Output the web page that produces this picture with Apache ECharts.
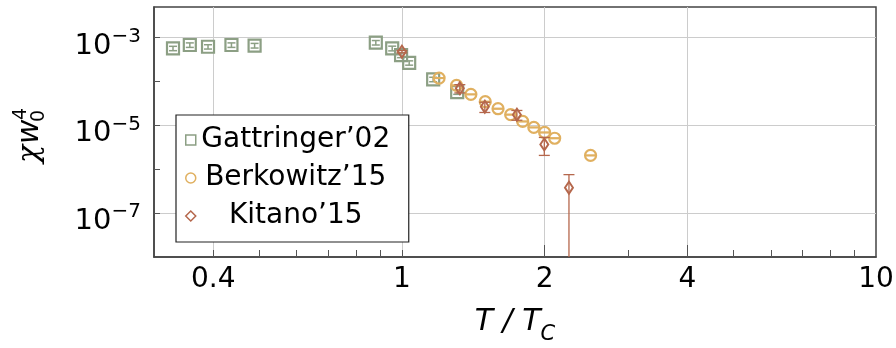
<!DOCTYPE html>
<html>
<head>
<meta charset="utf-8">
<script src="https://cdn.jsdelivr.net/npm/echarts@6/dist/echarts.min.js"></script>
<style>
  html, body { margin: 0; padding: 0; background: #fff; }
  #chart { width: 896px; height: 348px; }
</style>
</head>
<body>
<div id="chart"></div>
<script>
// series names
const names = ["Gattringer’02", "Berkowitz’15", "Kitano’15"];

// Gattringer'02 : T/Tc, chi*w0^4, error
const gattT = [0.329, 0.357, 0.390, 0.437, 0.489, 0.881, 0.954, 0.996, 1.036, 1.164, 1.308];
const gattChi = [5.7e-4, 6.8e-4, 6.2e-4, 6.8e-4, 6.6e-4, 7.7e-4, 5.7e-4, 4.0e-4, 2.66e-4, 1.12e-4, 5.75e-5];
const gattErr = [6.5e-5, 8e-5, 7e-5, 8e-5, 8e-5, 9e-5, 7e-5, 5e-5, 3e-5, 1.3e-5, 6.5e-6];

// Berkowitz'15
const berkT = [1.198, 1.304, 1.398, 1.499, 1.595, 1.696, 1.798, 1.898, 2.0, 2.10, 2.50];
const berkChi = [1.2e-4, 8.2e-5, 5.1e-5, 3.47e-5, 2.4e-5, 1.76e-5, 1.23e-5, 9.0e-6, 6.9e-6, 5.1e-6, 2.07e-6];
const berkErr = [2e-6, 1.5e-6, 1e-6, 7e-7, 5e-7, 3.5e-7, 2.5e-7, 1.8e-7, 1.4e-7, 1e-7, 4e-8];

// Kitano'15
const kitT = [1.0, 1.325, 1.496, 1.748, 1.997, 2.251];
const kitChi = [4.8e-4, 7.0e-5, 2.67e-5, 1.75e-5, 3.69e-6, 3.8e-7];
const kitErr = [3e-5, 1.5e-5, 7e-6, 4.4e-6, 1.62e-6, 3.75e-7];

// axis ticks
const xLabelVals = [0.4, 1, 2, 4, 10];
const xGridVals = [0.4, 1, 2, 4];
const xMajorTicks = [2, 4];
const xMinorTicks = [0.4, 0.5, 0.6, 0.7, 0.8, 0.9, 1, 3, 5, 6, 7, 8, 9];
const yLabelVals = [1e-7, 1e-5, 1e-3];
const yTickVals = [1e-7, 1e-6, 1e-5, 1e-4, 1e-3];

const F = "DejaVu Sans";
const green = "#8c9f84";
const orange = "#e0b060";
const brown = "#b5674c";
const frame = "#444";

const chart = echarts.init(document.getElementById("chart"));

function pts(xs, ys) {
  return xs.map((x, i) => [x, ys[i]]);
}
function bars(xs, ys, es) {
  return xs.map((x, i) => [x, ys[i] - es[i], ys[i] + es[i]]);
}
function errRender(capW, color, lw) {
  return function (params, api) {
    const x = api.value(0);
    const p0 = api.coord([x, api.value(1)]);
    const p1 = api.coord([x, api.value(2)]);
    const h = capW / 2;
    const st = { stroke: color, lineWidth: lw };
    return {
      type: "group",
      children: [
        { type: "line", shape: { x1: p0[0], y1: p0[1], x2: p1[0], y2: p1[1] }, style: st },
        { type: "line", shape: { x1: p0[0] - h, y1: p0[1], x2: p0[0] + h, y2: p0[1] }, style: st },
        { type: "line", shape: { x1: p1[0] - h, y1: p1[1], x2: p1[0] + h, y2: p1[1] }, style: st }
      ]
    };
  };
}

const logX = { type: "log", logBase: 10, min: 0.3, max: 10, position: "bottom" };
const logY = { type: "log", logBase: 10, min: 1e-8, max: 5e-3, position: "left" };

const option = {
  animation: false,
  backgroundColor: "#fff",
  grid: {
    left: 154, top: 7, right: 20, bottom: 91,
    containLabel: false, outerBoundsMode: "none",
    show: true, borderColor: frame, borderWidth: 1.5, backgroundColor: "transparent"
  },
  xAxis: [
    Object.assign({}, logX, {
      name: "{i|T / T}{sub|C}",
      nameLocation: "middle",
      nameGap: 50,
      nameTextStyle: {
        rich: {
          i: { fontSize: 30, fontFamily: F, fontStyle: "italic", color: "#000", lineHeight: 34, verticalAlign: "top" },
          sub: { fontSize: 21, fontFamily: F, fontStyle: "italic", color: "#000", lineHeight: 21, padding: [17, 0, 0, 0], verticalAlign: "top" }
        }
      },
      axisLine: { show: true, onZero: false, lineStyle: { color: frame, width: 1.5 } },
      axisTick: { show: true, inside: true, length: 7, customValues: xMinorTicks, lineStyle: { color: "#555", width: 1 } },
      axisLabel: {
        customValues: xLabelVals,
        formatter: v => String(Math.round(v * 10) / 10),
        fontSize: 28, fontFamily: F, color: "#000", margin: 9
      },
      splitLine: { show: false }
    }),
    Object.assign({}, logX, {
      axisLine: { show: false },
      axisTick: { show: true, inside: true, length: 12, customValues: xMajorTicks, lineStyle: { color: "#555", width: 1 } },
      axisLabel: { show: false },
      splitLine: { show: false }
    }),
    Object.assign({}, logX, {
      axisLine: { show: false },
      axisTick: { show: false, customValues: xGridVals },
      axisLabel: { show: false },
      splitLine: { show: true, lineStyle: { color: "#cccccc", width: 1 } }
    })
  ],
  yAxis: [
    Object.assign({}, logY, {
      axisLine: { show: true, onZero: false, lineStyle: { color: frame, width: 1.5 } },
      axisTick: { show: true, inside: true, length: 6, customValues: yTickVals, lineStyle: { color: "#555", width: 1 } },
      axisLabel: {
        customValues: yLabelVals,
        formatter: v => "{b|10}{s|−" + Math.abs(Math.round(Math.log10(v))) + "}",
        margin: 13,
        rich: {
          b: { fontSize: 29, fontFamily: F, color: "#000", lineHeight: 28, padding: [8, 0, 0, 0], verticalAlign: "top" },
          s: { fontSize: 20, fontFamily: F, color: "#000", lineHeight: 20, padding: [3, 0, 0, 0], verticalAlign: "top" }
        }
      },
      splitLine: { show: false }
    }),
    Object.assign({}, logY, {
      axisLine: { show: false },
      axisTick: { show: false, customValues: yLabelVals },
      axisLabel: { show: false },
      splitLine: { show: true, lineStyle: { color: "#cccccc", width: 1 } }
    })
  ],
  legend: {
    data: [
      { name: names[0], icon: "rect", itemStyle: { color: "#fff", borderColor: green, borderWidth: 1.5 } },
      { name: names[1], icon: "circle", itemStyle: { color: "#fff", borderColor: orange, borderWidth: 1.5 } },
      { name: names[2], icon: "diamond", itemStyle: { color: "#fff", borderColor: brown, borderWidth: 1.5 } }
    ],
    orient: "vertical",
    left: 176, top: 115,
    padding: [11, 18, 12, 9],
    itemGap: 10, itemWidth: 10, itemHeight: 10,
    backgroundColor: "#fff",
    borderColor: "#222", borderWidth: 1.2, borderRadius: 0,
    formatter: n => "{t|" + n + "}",
    textStyle: {
      rich: { t: { fontSize: 28, fontFamily: F, color: "#000", width: 190, align: "center", lineHeight: 30 } }
    }
  },
  graphic: [
    {
      type: "group", x: 45, y: 163, rotation: Math.PI / 2,
      children: [
        { type: "text", x: 0, y: 0, style: { text: "χ", font: 'italic 30px "DejaVu Serif"', fill: "#000", verticalAlign: "bottom" } },
        { type: "text", x: 19, y: 0, style: { text: "w", font: 'italic 30px "DejaVu Sans"', fill: "#000", verticalAlign: "bottom" } },
        { type: "text", x: 41, y: 4, style: { text: "0", font: '19px "DejaVu Sans"', fill: "#000", verticalAlign: "bottom" } },
        { type: "text", x: 43, y: -14, style: { text: "4", font: '19px "DejaVu Sans"', fill: "#000", verticalAlign: "bottom" } }
      ]
    }
  ],
  series: [
    {
      name: names[0], type: "scatter", data: pts(gattT, gattChi),
      symbol: "rect", symbolSize: 12, z: 3,
      itemStyle: { color: "rgba(255,255,255,0)", borderColor: green, borderWidth: 2.2, opacity: 1 }
    },
    {
      type: "custom", data: bars(gattT, gattChi, gattErr), renderItem: errRender(8, green, 1.5), z: 3, clip: true
    },
    {
      name: names[1], type: "scatter", data: pts(berkT, berkChi),
      symbol: "circle", symbolSize: 11, z: 4,
      itemStyle: { color: "rgba(255,255,255,0)", borderColor: orange, borderWidth: 2.2, opacity: 1 }
    },
    {
      type: "custom", data: bars(berkT, berkChi, berkErr), renderItem: errRender(11, orange, 1.5), z: 4, clip: true
    },
    {
      name: names[2], type: "scatter", data: pts(kitT, kitChi),
      symbol: "diamond", symbolSize: [8, 12], z: 5,
      itemStyle: { color: "rgba(255,255,255,0)", borderColor: brown, borderWidth: 2, opacity: 1 }
    },
    {
      type: "custom", data: bars(kitT, kitChi, kitErr), renderItem: errRender(11, brown, 1.3), z: 5, clip: true
    }
  ]
};

chart.setOption(option);
</script>
</body>
</html>
